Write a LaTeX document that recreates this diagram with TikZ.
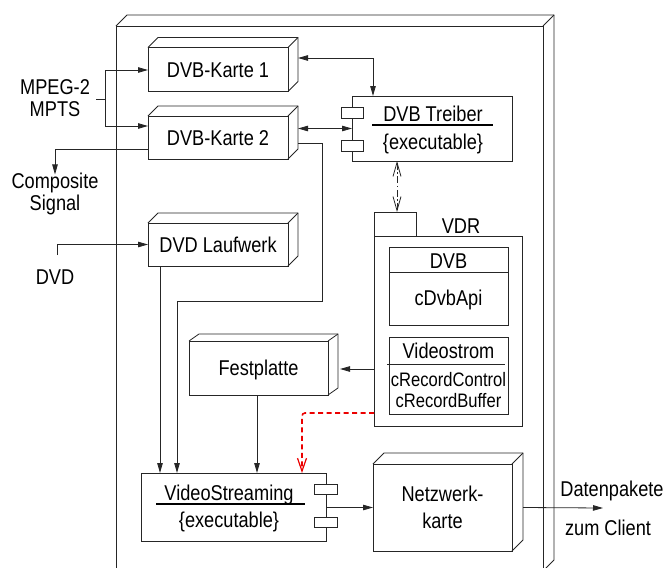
\documentclass[tikz,border=0pt]{standalone}
\usepackage{fontspec}
\setmainfont[FakeStretch=0.85]{Liberation Sans}
\usetikzlibrary{arrows.meta,calc}
\newcommand\depthfaces[3]{% name, dx, dy
  \draw[ln] (#1.north west) -- ++(#2,-#3) -- ($(#1.north east)+(#2,-#3)$) -- ($(#1.south east)+(#2,-#3)$) -- (#1.south east);
  \draw[ln] (#1.north east) -- ++(#2,-#3);}
\begin{document}
\begin{tikzpicture}[x=1pt,y=-1pt,
  every node/.style={font=\fontsize{21.4}{21.7}\selectfont, inner sep=0pt, outer sep=0pt},
  ln/.style={line width=0.8pt, draw=black!85},
  box/.style={ln, draw, rectangle, fill=white, align=center, text height=15.3pt, text depth=0pt},
  tabbox/.style={ln, draw, fill=white, minimum width=22pt, minimum height=11pt},
  arr/.style={ln, -{Triangle[length=10pt,width=5.5pt]}},
  arrb/.style={ln, {Triangle[length=10pt,width=5.5pt]}-{Triangle[length=10pt,width=5.5pt]}},
  vtip/.tip={Straight Barb[length=14pt,width=8pt]},
  small/.style={font=\fontsize{19.5}{21}\selectfont}
]
\useasboundingbox (0,0) rectangle (665,568);

% server node (outer 3D box)
\draw[ln] (116,571) -- (116,26) -- (543,26) -- (543,571);
\draw[ln] (116,26) -- (127,15) -- (554,15) -- (554,560) -- (543,571);
\draw[ln] (543,26) -- (554,15);

% hardware nodes
\node[box, minimum width=140pt, minimum height=44pt] (k1) at (218,69.5) {DVB-Karte 1};
\depthfaces{k1}{10}{10}
\node[box, minimum width=140pt, minimum height=43pt] (k2) at (218,137.5) {DVB-Karte 2};
\depthfaces{k2}{10}{10}
\node[box, minimum width=140pt, minimum height=43pt] (dvd) at (218,244.5) {DVD Laufwerk};
\depthfaces{dvd}{10}{10}
\node[box, minimum width=139pt, minimum height=54pt] (fest) at (258.5,368) {Festplatte};
\depthfaces{fest}{10}{7}
\node[box, minimum width=139pt, minimum height=87pt, text height=42.8pt, font=\fontsize{21.4}{27.5}\selectfont] (net) at (442.5,507.5) {Netzwerk-\\karte};
\depthfaces{net}{11}{11}

% DVB Treiber component
\node[box, minimum width=160pt, minimum height=65pt] (treiber) at (432,128.5) {};
\node[tabbox] (tt1) at (352,112.5) {};
\node[tabbox] (tt2) at (352,145.5) {};
\node[anchor=base] (treibertitle) at (433,121) {DVB Treiber};
\draw[line width=1.3pt] (372,125) -- (493,125);
\node[anchor=base] (treiberexe) at (433,149.5) {\{executable\}};

% VDR package
\node[box, minimum width=42pt, minimum height=24pt] (vdrtab) at (395,224) {};
\node[box, minimum width=148pt, minimum height=190pt] (vdr) at (448,331) {};
\node[anchor=base] (vdrlabel) at (461,233) {VDR};
\node[box, minimum width=119pt, minimum height=78pt] (dvbbox) at (448.5,286) {};
\draw[ln] (389,272) -- (508,272);
\node[anchor=base] (dvbtitle) at (448.5,268) {DVB};
\node[anchor=base] (dvbapi) at (448.5,305) {cDvbApi};
\node[box, minimum width=119pt, minimum height=77pt] (vsbox) at (448.5,375.5) {};
\draw[ln] (387,364) -- (505,364);
\node[anchor=base] (vstitle) at (448.5,358) {Videostrom};
\node[anchor=base, small] (rc) at (448.5,386) {cRecordControl};
\node[anchor=base, small] (rb) at (448.5,407.3) {cRecordBuffer};

% VideoStreaming component
\node[box, minimum width=185pt, minimum height=68pt] (vs) at (233.5,507) {};
\node[tabbox, minimum width=23pt, minimum height=10pt] (vt1) at (325.5,489) {};
\node[tabbox, minimum width=23pt, minimum height=10pt] (vt2) at (325.5,522) {};
\node[anchor=base] (vstit) at (229,500) {VideoStreaming};
\draw[line width=1.3pt] (156,504) -- (305,504);
\node[anchor=base] (vsexe) at (229,527.5) {\{executable\}};

% external labels
\node[align=center] (mpeg) at (55,98.2) {MPEG-2\\MPTS};
\node[align=center] (comp) at (55,194.3) {Composite\\Signal};
\node[text height=15.3pt, text depth=0pt] (dvdlbl) at (55,276.5) {DVD};
\node[anchor=base] (dp) at (612,496.5) {Datenpakete};
\node[anchor=base] (zc) at (608,535) {zum Client};
\coordinate (mpegout) at (96,99);
\coordinate (dvdin) at (57,255);
\coordinate (out) at (603,508);

% connectors
\draw[ln] (mpegout) -- (105,99);
\draw[arr] (105,99) |- ([yshift=-0.5pt]k1.west);
\draw[arr] (105,99) |- ([yshift=11.5pt]k2.west);
\draw[arrb] ($(k1.east)+(10,-11.5)$) -| ([xshift=-59pt]treiber.north);
\draw[arrb] ([xshift=10pt]k2.east |- treiber.west) -- (treiber.west);
\draw[arr] ([yshift=-11.5pt]k2.west) -| ([yshift=-1pt]comp.north);
\draw[arr] ($(k2.east)+(10,5.5)$) -- (322,143) -- (322,301) -| ([xshift=-56.5pt]vs.north);
\draw[arr] (dvdin) |- (dvd.west);
\draw[arr] ([xshift=-58pt]dvd.south) -- ([xshift=-58pt]dvd.south |- vs.north);
\draw[arr] ([xshift=-1.5pt]fest.south) -- ([xshift=-1.5pt]fest.south |- vs.north);
\draw[arr] ([yshift=-38pt]vdr.west) -- ([xshift=12pt]fest.east |- 0,369);
\draw[ln, dash pattern=on 7pt off 2.5pt on 1.5pt off 2.5pt, {vtip}-{vtip}]
  ([xshift=2pt]vdrtab.north |- treiber.south) -- ([xshift=2pt]vdrtab.north);
\draw[line width=1.6pt, red!92!black, dash pattern=on 5pt off 3.5pt, rounded corners=3pt, -{Straight Barb[length=13pt,width=9pt,line width=1.2pt]}]
  ([yshift=-82pt]vdr.west) -| ([xshift=68.5pt]vs.north);
\draw[arr] (vs.east |- net.west) -- (net.west);
\draw[arr] ([xshift=11pt]net.east) -- (out);
\end{tikzpicture}
\end{document}
